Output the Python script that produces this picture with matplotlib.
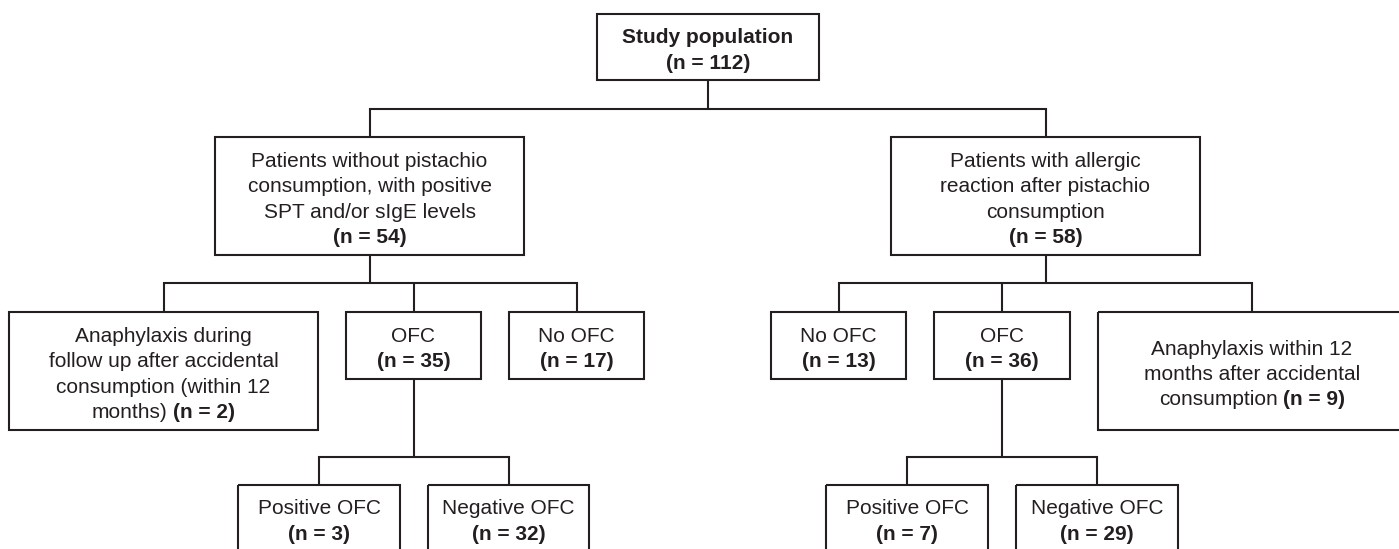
import matplotlib
matplotlib.use('Agg')
import matplotlib.pyplot as plt
from matplotlib.patches import Rectangle

INK = '#231f20'
FONT = 'Liberation Sans'
SIZE = 15

# box texts: each line is a list of (text, bold) pieces
study = [[('Study population', True)], [('(n = 112)', True)]]
no_consumption = [[('Patients without pistachio', False)],
                  [('consumption, with positive', False)],
                  [('SPT and/or sIgE levels', False)],
                  [('(n = 54)', True)]]
with_reaction = [[('Patients with allergic', False)],
                 [('reaction after pistachio', False)],
                 [('consumption', False)],
                 [('(n = 58)', True)]]
anaph_left = [[('Anaphylaxis during', False)],
              [('follow up after accidental', False)],
              [('consumption (within 12', False)],
              [('months)', False), ('(n = 2)', True)]]
ofc_left = [[('OFC', False)], [('(n = 35)', True)]]
no_ofc_left = [[('No OFC', False)], [('(n = 17)', True)]]
no_ofc_right = [[('No OFC', False)], [('(n = 13)', True)]]
ofc_right = [[('OFC', False)], [('(n = 36)', True)]]
anaph_right = [[('Anaphylaxis within 12', False)],
               [('months after accidental', False)],
               [('consumption', False), ('(n = 9)', True)]]
pos_left = [[('Positive OFC', False)], [('(n = 3)', True)]]
neg_left = [[('Negative OFC', False)], [('(n = 32)', True)]]
pos_right = [[('Positive OFC', False)], [('(n = 7)', True)]]
neg_right = [[('Negative OFC', False)], [('(n = 29)', True)]]

fig = plt.figure(figsize=(13.99, 5.49), dpi=100)
ax = fig.add_axes([0, 0, 1, 1])
ax.set_xlim(0, 1399)
ax.set_ylim(549, 0)
ax.axis('off')
renderer = fig.canvas.get_renderer()


def text_width(txt, bold):
    t = ax.text(0, 0, txt, fontsize=SIZE, family=FONT,
                fontweight='bold' if bold else 'normal')
    w = t.get_window_extent(renderer).width
    t.remove()
    return w


SPACE = text_width('a a', False) - text_width('aa', False)


def draw_line(xc, y, pieces):
    widths = [text_width(p, b) for p, b in pieces]
    total = sum(widths) + SPACE * (len(pieces) - 1)
    x = xc - total / 2
    for (p, b), w in zip(pieces, widths):
        ax.text(x, y, p, fontsize=SIZE, family=FONT, color=INK,
                fontweight='bold' if b else 'normal', ha='left', va='baseline')
        x += w + SPACE


def box(x0, x1, y0, y1, lines):
    ax.add_patch(Rectangle((x0, y0), x1 - x0, y1 - y0, fill=False,
                           edgecolor=INK, lw=1.5))
    xc = (x0 + x1) / 2
    yc = (y0 + y1) / 2
    n = len(lines)
    for i, pieces in enumerate(lines):
        draw_line(xc, yc + 9 + (i - (n - 1) / 2) * 25.4, pieces)
    return xc, y0, y1


def connect(parent, children, ybar):
    px, _, pb = parent
    ax.plot([px, px], [pb, ybar], color=INK, lw=1.5, solid_capstyle='butt')
    xs = [c[0] for c in children]
    ax.plot([min(xs), max(xs)], [ybar, ybar], color=INK, lw=1.5, solid_capstyle='projecting')
    for cx, ct, _ in children:
        ax.plot([cx, cx], [ybar, ct], color=INK, lw=1.5, solid_capstyle='butt')


top = box(597, 819, 14, 80, study)
l2a = box(215, 524, 137, 255, no_consumption)
l2b = box(891, 1200, 137, 255, with_reaction)
connect(top, [l2a, l2b], 109)

a1 = box(9, 318, 312, 430, anaph_left)
o1 = box(346, 481, 312, 379, ofc_left)
n1 = box(509, 644, 312, 379, no_ofc_left)
connect(l2a, [a1, o1, n1], 283)

n2 = box(771, 906, 312, 379, no_ofc_right)
o2 = box(934, 1070, 312, 379, ofc_right)
a2 = box(1098, 1406, 312, 430, anaph_right)
connect(l2b, [n2, o2, a2], 283)

p1 = box(238, 400, 485, 551, pos_left)
g1 = box(428, 589, 485, 551, neg_left)
connect(o1, [p1, g1], 457)

p2 = box(826, 988, 485, 551, pos_right)
g2 = box(1016, 1178, 485, 551, neg_right)
connect(o2, [p2, g2], 457)

fig.savefig('out.png', dpi=100)
